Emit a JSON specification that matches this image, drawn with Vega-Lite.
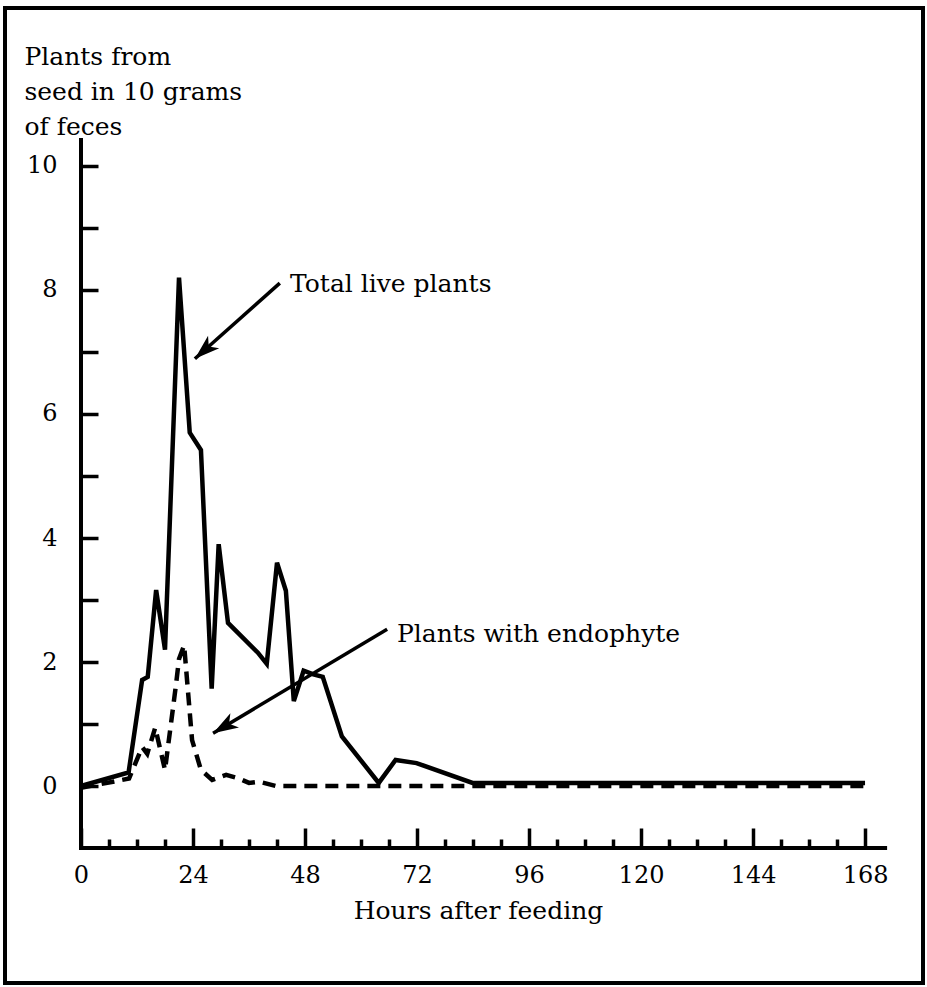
{
  "$schema": "https://vega.github.io/schema/vega-lite/v6.json",
  "width": 918,
  "height": 975,
  "padding": {"left": 5, "top": 8, "right": 4, "bottom": 4},
  "autosize": {"type": "none"},
  "background": "white",
  "config": {
    "view": {"stroke": "black", "strokeWidth": 4},
    "font": "DejaVu Serif"
  },
  "datasets": {
    "total": [
      {"hours": 0, "plants": 0},
      {"hours": 10.2, "plants": 0.22},
      {"hours": 13.1, "plants": 1.71},
      {"hours": 14.3, "plants": 1.76},
      {"hours": 16.1, "plants": 3.16},
      {"hours": 18.0, "plants": 2.2},
      {"hours": 21.0, "plants": 8.2},
      {"hours": 23.3, "plants": 5.7},
      {"hours": 25.7, "plants": 5.42},
      {"hours": 28.0, "plants": 1.57},
      {"hours": 29.5, "plants": 3.9},
      {"hours": 31.5, "plants": 2.63},
      {"hours": 37.9, "plants": 2.15},
      {"hours": 39.8, "plants": 1.97},
      {"hours": 42.0, "plants": 3.6},
      {"hours": 43.9, "plants": 3.15},
      {"hours": 45.6, "plants": 1.37},
      {"hours": 47.7, "plants": 1.86},
      {"hours": 49.8, "plants": 1.8},
      {"hours": 51.8, "plants": 1.76},
      {"hours": 55.9, "plants": 0.8},
      {"hours": 63.8, "plants": 0.05},
      {"hours": 67.4, "plants": 0.42},
      {"hours": 71.9, "plants": 0.37},
      {"hours": 83.9, "plants": 0.05},
      {"hours": 168, "plants": 0.05}
    ],
    "endophyte": [
      {"hours": 0, "plants": -0.03},
      {"hours": 10.3, "plants": 0.12},
      {"hours": 13.1, "plants": 0.63},
      {"hours": 14.2, "plants": 0.52},
      {"hours": 15.9, "plants": 0.94},
      {"hours": 18.0, "plants": 0.26},
      {"hours": 20.4, "plants": 1.66},
      {"hours": 21.0, "plants": 2.05},
      {"hours": 22.1, "plants": 2.27},
      {"hours": 23.8, "plants": 0.74},
      {"hours": 25.7, "plants": 0.26},
      {"hours": 28.1, "plants": 0.1},
      {"hours": 31.1, "plants": 0.18},
      {"hours": 33.9, "plants": 0.12},
      {"hours": 36.0, "plants": 0.05},
      {"hours": 38.2, "plants": 0.07},
      {"hours": 41.8, "plants": 0},
      {"hours": 168, "plants": 0}
    ],
    "axislines": [
      {"hours": 0, "plants": -1, "hours2": 0, "plants2": 10.42},
      {"hours": 0, "plants": -1, "hours2": 172.3, "plants2": -1}
    ],
    "arrows": [
      {"id": "total", "hours": 42.6, "plants": 8.11, "hours2": 24.4, "plants2": 6.89},
      {"id": "endophyte", "hours": 65.6, "plants": 2.53, "hours2": 28.3, "plants2": 0.85}
    ],
    "notes": [
      {"hours": 44.8, "plants": 7.97, "label": "Total live plants"},
      {"hours": 67.7, "plants": 2.32, "label": "Plants with endophyte"}
    ]
  },
  "encoding": {
    "x": {
      "field": "hours",
      "type": "quantitative",
      "scale": {"domain": [-16.285, 180.42], "nice": false, "zero": false},
      "axis": {
        "orient": "bottom",
        "offset": -135,
        "domain": false,
        "grid": false,
        "values": [0, 6, 12, 18, 24, 30, 36, 42, 48, 54, 60, 66, 72, 78, 84, 90, 96, 102, 108, 114, 120, 126, 132, 138, 144, 150, 156, 162, 168],
        "labelExpr": "datum.value % 24 === 0 ? datum.label : ''",
        "tickSize": {"condition": {"test": "datum.value % 24 === 0", "value": -20}, "value": -9},
        "tickWidth": 3.5,
        "tickColor": "black",
        "labelFont": "DejaVu Serif",
        "labelFontSize": 24,
        "labelColor": "black",
        "labelBaseline": "alphabetic",
        "labelPadding": 54,
        "labelFlush": false,
        "labelOverlap": false,
        "title": "Hours after feeding",
        "titleFont": "DejaVu Serif",
        "titleFontSize": 25,
        "titleFontWeight": "normal",
        "titleColor": "black",
        "titleX": 473,
        "titleY": 70,
        "titleAlign": "center",
        "titleBaseline": "alphabetic"
      }
    },
    "y": {
      "field": "plants",
      "type": "quantitative",
      "scale": {"domain": [-3.177, 12.548], "nice": false, "zero": false},
      "axis": {
        "orient": "left",
        "offset": -76,
        "domain": false,
        "grid": false,
        "values": [0, 1, 2, 3, 4, 5, 6, 7, 8, 9, 10],
        "labelExpr": "datum.value % 2 === 0 ? datum.label : ''",
        "tickSize": -17,
        "tickWidth": 3.5,
        "tickColor": "black",
        "labelFont": "DejaVu Serif",
        "labelFontSize": 24,
        "labelColor": "black",
        "labelBaseline": "middle",
        "labelAlign": "right",
        "labelPadding": 41,
        "labelOverlap": false,
        "title": ["Plants from", "seed in 10 grams", "of feces"],
        "titleFont": "DejaVu Serif",
        "titleFontSize": 25,
        "titleFontWeight": "normal",
        "titleColor": "black",
        "titleAngle": 0,
        "titleAlign": "left",
        "titleBaseline": "top",
        "titleX": -57,
        "titleY": 36,
        "titleLineHeight": 35
      }
    }
  },
  "layer": [
    {
      "data": {"name": "axislines"},
      "mark": {"type": "rule", "color": "black", "strokeWidth": 4, "strokeCap": "square"},
      "encoding": {"x2": {"field": "hours2"}, "y2": {"field": "plants2"}}
    },
    {
      "data": {"name": "endophyte"},
      "mark": {"type": "line", "color": "black", "strokeWidth": 4.5, "strokeDash": [13, 8]},
      "encoding": {}
    },
    {
      "data": {"name": "total"},
      "mark": {"type": "line", "color": "black", "strokeWidth": 4.5, "strokeJoin": "miter"},
      "encoding": {}
    },
    {
      "data": {"name": "arrows"},
      "mark": {"type": "rule", "color": "black", "strokeWidth": 3.5},
      "encoding": {"x2": {"field": "hours2"}, "y2": {"field": "plants2"}}
    },
    {
      "data": {"name": "arrows"},
      "transform": [{"filter": "datum.id === 'total'"}],
      "mark": {"type": "point", "shape": "M0,0L0.7,2.1L0,1.55L-0.7,2.1Z", "filled": true, "color": "black", "opacity": 1, "size": 576, "angle": 228.2, "strokeWidth": 0},
      "encoding": {
        "x": {"field": "hours2", "type": "quantitative"},
        "y": {"field": "plants2", "type": "quantitative"}
      }
    },
    {
      "data": {"name": "arrows"},
      "transform": [{"filter": "datum.id === 'endophyte'"}],
      "mark": {"type": "point", "shape": "M0,0L0.7,2.1L0,1.55L-0.7,2.1Z", "filled": true, "color": "black", "opacity": 1, "size": 576, "angle": 239.1, "strokeWidth": 0},
      "encoding": {
        "x": {"field": "hours2", "type": "quantitative"},
        "y": {"field": "plants2", "type": "quantitative"}
      }
    },
    {
      "data": {"name": "notes"},
      "mark": {"type": "text", "align": "left", "baseline": "alphabetic", "font": "DejaVu Serif", "fontSize": 25, "color": "black"},
      "encoding": {"text": {"field": "label"}}
    }
  ]
}
